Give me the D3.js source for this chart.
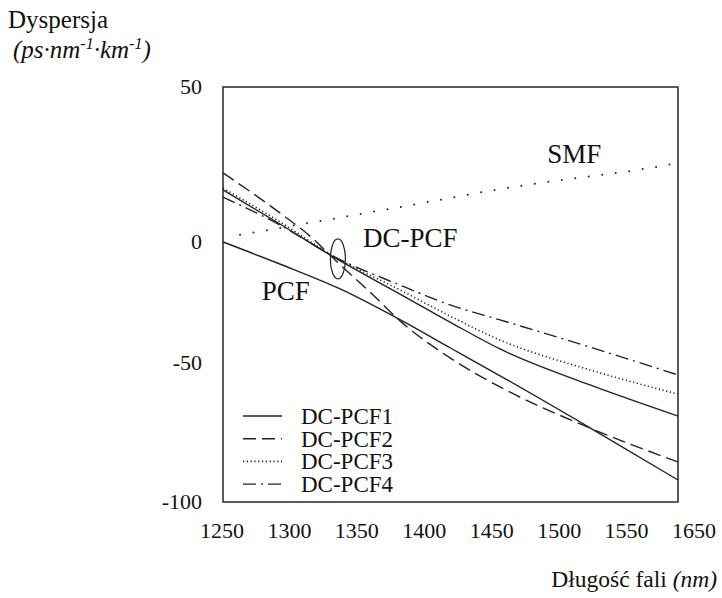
<!DOCTYPE html>
<html>
<head>
<meta charset="utf-8">
<script src="https://cdn.jsdelivr.net/npm/d3@7"></script>
<style>
  html, body { margin: 0; padding: 0; background: #fff; }
  svg { display: block; }
</style>
</head>
<body>
<svg id="chart" width="722" height="598"></svg>
<script>
// ---- Data ----
const xTickLabels = ["1250", "1300", "1350", "1400", "1450", "1500", "1550", "1650"];
const yTickValues = [50, 0, -50, -100];

const seriesNames = ["DC-PCF1", "DC-PCF2", "DC-PCF3", "DC-PCF4"];

const pcfX = [1250, 1300, 1353, 1406, 1450, 1494, 1573, 1650];
const pcfY = [0, -9.1, -19.4, -32.2, -43.8, -54.7, -73.4, -92.1];

const smfX = [1265, 1406, 1504, 1635, 1650];
const smfY = [2.3, 11.3, 17.7, 24.5, 25.5];

const dcpcf1X = [1250, 1300, 1348.5, 1405.6, 1449.6, 1493.5, 1572.6, 1650];
const dcpcf1Y = [16.8, 5.8, -6.6, -21.5, -33.1, -44.2, -57.9, -69.1];

const dcpcf2X = [1250, 1300, 1326.5, 1348.5, 1379.2, 1405.6, 1449.6, 1493.5, 1572.6, 1650];
const dcpcf2Y = [22.3, 9.4, 1.9, -7.4, -20.7, -32.6, -47.9, -58.6, -73.4, -85.6];

const dcpcf3X = [1250, 1300, 1348.5, 1405.6, 1449.6, 1493.5, 1572.6, 1650];
const dcpcf3Y = [17.4, 6.5, -6.2, -19.8, -30.6, -40.5, -52.5, -61.2];

const dcpcf4X = [1250, 1300, 1348.5, 1405.6, 1449.6, 1493.5, 1552.4, 1650];
const dcpcf4Y = [14.5, 5.5, -6.2, -17.8, -26.0, -32.2, -40.5, -54.3];

const annotations = [
  { text: "SMF", x: 1535, y: 25.5 },
  { text: "DC-PCF", x: 1373, y: -2.1 },
  { text: "PCF", x: 1284, y: -24.0 }
];
const ellipseCenter = { x: 1351, y: -7.0 };

// ---- Scales ----
const FONT = "Liberation Serif";
const svg = d3.select("#chart");
const x = d3.scaleLinear().domain([1250, 1650]).range([223, 678]);
// the reference's y labels are not evenly spaced: piecewise-linear scale through them
const y = d3.scaleLinear().domain([-100, -50, 0, 50]).range([502, 363, 242, 87]);
const xLabelPos = d3.scalePoint().domain(xTickLabels).range([222, 694]);

const zip = (xs, ys) => xs.map((v, i) => [v, ys[i]]);
const line = d3.line().x(d => x(d[0])).y(d => y(d[1])).curve(d3.curveMonotoneX);

const ink = "#222";

// ---- Frame ----
svg.append("rect")
  .attr("x", x.range()[0]).attr("y", y(50))
  .attr("width", x.range()[1] - x.range()[0])
  .attr("height", y(-100) - y(50))
  .attr("fill", "none").attr("stroke", "#333").attr("stroke-width", 1.6);

// ---- Curves ----
const styles = {
  pcf:  { dash: null, width: 1.4 },
  dc1:  { dash: null, width: 1.4 },
  dc2:  { dash: "13 6", width: 1.4 },
  dc3:  { dash: "1.2 2.6", width: 1.6 },
  dc4:  { dash: "13 5 2 5", width: 1.4 }
};

const curves = [
  { data: zip(pcfX, pcfY), s: styles.pcf },
  { data: zip(dcpcf1X, dcpcf1Y), s: styles.dc1 },
  { data: zip(dcpcf2X, dcpcf2Y), s: styles.dc2 },
  { data: zip(dcpcf3X, dcpcf3Y), s: styles.dc3 },
  { data: zip(dcpcf4X, dcpcf4Y), s: styles.dc4 }
];

curves.forEach(c => {
  svg.append("path")
    .attr("d", line(c.data))
    .attr("fill", "none")
    .attr("stroke", ink)
    .attr("stroke-width", c.s.width)
    .attr("stroke-dasharray", c.s.dash);
});

// SMF: sparse dots
svg.append("path")
  .attr("d", line(zip(smfX, smfY)))
  .attr("fill", "none")
  .attr("stroke", ink)
  .attr("stroke-width", 2)
  .attr("stroke-linecap", "round")
  .attr("stroke-dasharray", "0 13.6");

// Ellipse marking the DC-PCF crossing
svg.append("ellipse")
  .attr("cx", x(ellipseCenter.x)).attr("cy", y(ellipseCenter.y))
  .attr("rx", 7.5).attr("ry", 20)
  .attr("fill", "none").attr("stroke", ink).attr("stroke-width", 1.2);

// ---- Annotations ----
svg.selectAll("text.ann").data(annotations).enter().append("text")
  .attr("class", "ann")
  .attr("font-family", FONT)
  .attr("x", d => x(d.x)).attr("y", d => y(d.y))
  .attr("font-size", 27).attr("fill", "#111")
  .text(d => d.text);

// ---- Tick labels ----
svg.selectAll("text.xt").data(xTickLabels).enter().append("text")
  .attr("class", "xt")
  .attr("font-family", FONT)
  .attr("x", d => xLabelPos(d)).attr("y", 538)
  .attr("text-anchor", "middle")
  .attr("font-size", 22).attr("fill", "#111")
  .text(d => d);

svg.selectAll("text.yt").data(yTickValues).enter().append("text")
  .attr("class", "yt")
  .attr("font-family", FONT)
  .attr("x", 202).attr("y", d => y(d))
  .attr("dy", "0.33em")
  .attr("text-anchor", "end")
  .attr("font-size", 22).attr("fill", "#111")
  .text(d => d);

// ---- Axis titles ----
svg.append("text")
  .attr("font-family", FONT)
  .attr("x", 8).attr("y", 28)
  .attr("font-size", 25).attr("fill", "#111")
  .text("Dyspersja");

const unit = svg.append("text")
  .attr("font-family", FONT)
  .attr("x", 13).attr("y", 58)
  .attr("font-size", 25).attr("font-style", "italic").attr("fill", "#111");
unit.append("tspan").text("(ps·nm");
unit.append("tspan").attr("font-size", 16).attr("dy", -9).text("-1");
unit.append("tspan").attr("dy", 9).text("·km");
unit.append("tspan").attr("font-size", 16).attr("dy", -9).text("-1");
unit.append("tspan").attr("dy", 9).text(")");

const xt = svg.append("text")
  .attr("font-family", FONT)
  .attr("x", 717).attr("y", 587)
  .attr("text-anchor", "end")
  .attr("font-size", 23.5).attr("fill", "#111");
xt.append("tspan").text("Długość fali ");
xt.append("tspan").attr("font-style", "italic").text("(nm)");

// ---- Legend ----
const legendDash = [styles.dc1, styles.dc2, styles.dc3, styles.dc4];
const lg = svg.append("g");
seriesNames.forEach((name, i) => {
  const yy = 416 + i * 22.7;
  lg.append("line")
    .attr("x1", 243).attr("x2", 282)
    .attr("y1", yy).attr("y2", yy)
    .attr("stroke", ink)
    .attr("stroke-width", legendDash[i].width)
    .attr("stroke-dasharray", legendDash[i].dash);
  lg.append("text")
    .attr("font-family", FONT)
    .attr("x", 301).attr("y", yy)
    .attr("dy", "0.35em")
    .attr("font-size", 23).attr("fill", "#111")
    .text(name);
});
</script>
</body>
</html>
